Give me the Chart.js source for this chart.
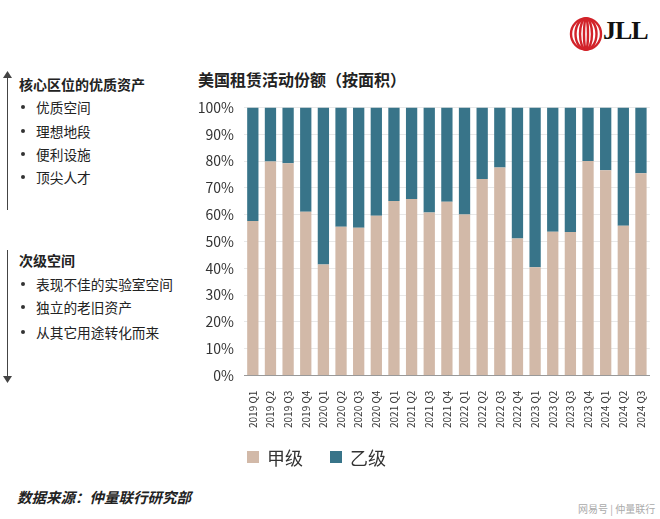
<!DOCTYPE html>
<html lang="zh">
<head>
  <meta charset="UTF-8" />
  <title>美国租赁活动份额（按面积）</title>
  <script src="https://cdn.jsdelivr.net/npm/chart.js"></script>
  <style>
    body {
      margin: 0;
      width: 660px;
      height: 519px;
      background: #fff;
      font-family: "Noto Sans CJK SC", "Noto Sans", sans-serif;
      color: #222;
      position: relative;
      overflow: hidden;
    }
    .abs { position: absolute; white-space: nowrap; line-height: 20px; }
    .head { font-size: 14px; font-weight: bold; }
    .item { font-size: 13.7px; }
    .item:before {
      content: ""; position: absolute; left: -15px; top: 8px;
      width: 4px; height: 4px; border-radius: 50%; background: #333;
    }
    .vline { position: absolute; left: 7px; width: 1px; background: #444; }
    #title { left: 198px; top: 69px; font-size: 16px; font-weight: bold; }
    #source { left: 17px; top: 487px; font-size: 14.5px; font-weight: bold; font-style: italic; }
    #mark { left: 578px; top: 499px; font-size: 10px; color: #aaa; }
    #wrap { position: absolute; left: 190px; top: 89px; width: 470px; height: 393px; }
  </style>
</head>
<body>
  <!-- JLL logo -->
  <svg class="abs" style="left:569px;top:17px" width="34" height="34" viewBox="0 0 34 34">
    <g fill="none" stroke="#d2232a" stroke-width="2.4">
      <ellipse cx="17" cy="17" rx="15" ry="15.5" />
      <ellipse cx="17" cy="17" rx="10.5" ry="15.5" />
      <ellipse cx="17" cy="17" rx="6" ry="15.5" />
      <ellipse cx="17" cy="17" rx="2" ry="15.5" />
    </g>
  </svg>
  <div class="abs" style="left:603px;top:21px;font-family:'Liberation Serif',serif;font-weight:bold;font-size:26px;color:#111;letter-spacing:-1px">JLL</div>

  <!-- left notes -->
  <div class="vline" style="top:76px;height:134px"></div>
  <svg class="abs" style="left:3px;top:71px" width="9" height="8"><polygon points="4.5,0 0,7 9,7" fill="#444"/></svg>
  <div class="vline" style="top:250px;height:128px"></div>
  <svg class="abs" style="left:3px;top:376px" width="9" height="8"><polygon points="0,0 9,0 4.5,7" fill="#444"/></svg>

  <div class="abs head" style="left:19px;top:74px">核心区位的优质资产</div>
  <div class="abs item" style="left:36px;top:97px">优质空间</div>
  <div class="abs item" style="left:36px;top:121px">理想地段</div>
  <div class="abs item" style="left:36px;top:144px">便利设施</div>
  <div class="abs item" style="left:36px;top:167px">顶尖人才</div>

  <div class="abs head" style="left:19px;top:250px">次级空间</div>
  <div class="abs item" style="left:36px;top:274px">表现不佳的实验室空间</div>
  <div class="abs item" style="left:36px;top:297px">独立的老旧资产</div>
  <div class="abs item" style="left:36px;top:322px">从其它用途转化而来</div>

  <div id="title" class="abs">美国租赁活动份额（按面积）</div>
  <div id="wrap"><canvas id="shareChart"></canvas></div>
  <div id="source" class="abs">数据来源：仲量联行研究部</div>
  <div id="mark" class="abs">网易号 | 仲量联行</div>

  <script>
    const quarters = [
      '2019 Q1', '2019 Q2', '2019 Q3', '2019 Q4',
      '2020 Q1', '2020 Q2', '2020 Q3', '2020 Q4',
      '2021 Q1', '2021 Q2', '2021 Q3', '2021 Q4',
      '2022 Q1', '2022 Q2', '2022 Q3', '2022 Q4',
      '2023 Q1', '2023 Q2', '2023 Q3', '2023 Q4',
      '2024 Q1', '2024 Q2', '2024 Q3'
    ];
    // 甲级 share (%), 乙级 is the rest
    const classA = [57.6, 79.8, 79.2, 61.1, 41.4, 55.5, 55.1, 59.6, 65.1, 65.8, 60.8, 64.8,
                    60.1, 73.3, 77.6, 51.1, 40.4, 53.6, 53.5, 80.0, 76.6, 55.9, 75.4];
    const classB = classA.map(v => +(100 - v).toFixed(1));
    const seriesNames = ['甲级', '乙级'];
    const yTicks = [0, 10, 20, 30, 40, 50, 60, 70, 80, 90, 100];

    const cjk = '"Noto Sans CJK SC", sans-serif';

    // legend drawn under the x labels, lined up with the plot's left edge
    const bottomLegend = {
      id: 'bottomLegend',
      afterDraw(chart) {
        const { ctx, chartArea } = chart;
        let x = chartArea.left + 3;
        const y = chart.height - 25;
        ctx.save();
        ctx.font = '18px ' + cjk;
        ctx.textBaseline = 'middle';
        chart.data.datasets.forEach(ds => {
          ctx.fillStyle = ds.backgroundColor;
          ctx.fillRect(x, y - 6, 12, 12);
          x += 20;
          ctx.fillStyle = '#333';
          ctx.fillText(ds.label, x, y + 1);
          x += ctx.measureText(ds.label).width + 27;
        });
        ctx.restore();
      }
    };

    const ctx = document.getElementById('shareChart').getContext('2d');
    new Chart(ctx, {
      type: 'bar',
      data: {
        labels: quarters,
        datasets: [
          { label: seriesNames[0], data: classA, backgroundColor: '#d2b9a8' },
          { label: seriesNames[1], data: classB, backgroundColor: '#387489' }
        ]
      },
      plugins: [bottomLegend],
      options: {
        responsive: true,
        maintainAspectRatio: false,
        animation: false,
        categoryPercentage: 0.8,
        barPercentage: 0.8,
        layout: { padding: { top: 4, right: 2, bottom: 47 } },
        plugins: {
          tooltip: { enabled: false },
          legend: { display: false }
        },
        scales: {
          x: {
            stacked: true,
            grid: { display: false },
            border: { color: '#999' },
            ticks: {
              minRotation: 90,
              maxRotation: 90,
              padding: 7,
              color: '#333',
              font: { family: cjk, size: 10 }
            }
          },
          y: {
            stacked: true,
            min: 0,
            max: 100,
            afterFit: s => { s.width = 54; },
            afterBuildTicks: s => { s.ticks = yTicks.map(v => ({ value: v })); },
            grid: { color: '#e8e8e8', drawTicks: false },
            border: { display: false },
            ticks: {
              padding: 10,
              color: '#333',
              font: { family: cjk, size: 14 },
              callback: v => v + '%'
            }
          }
        }
      }
    });
  </script>
</body>
</html>
